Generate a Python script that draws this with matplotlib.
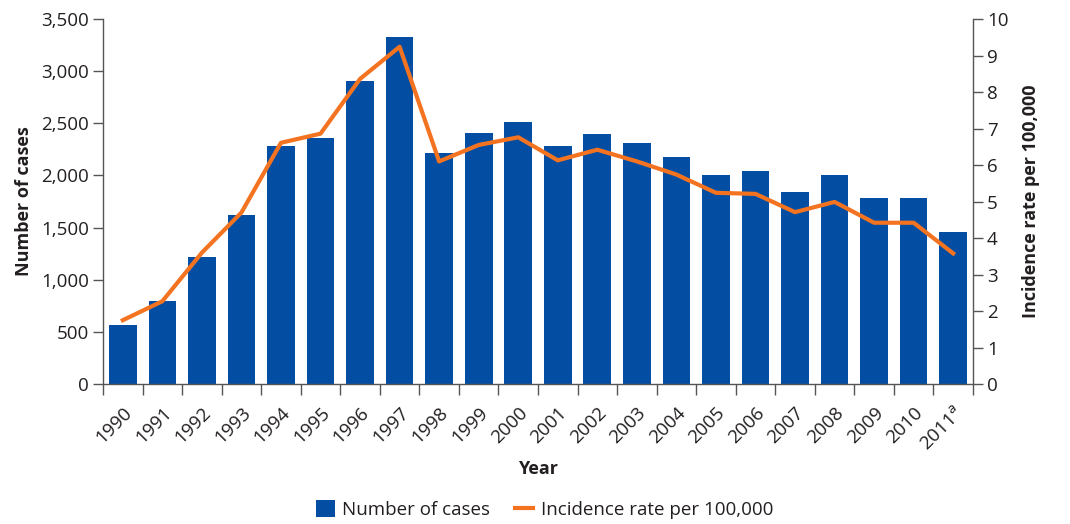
import numpy as np
import matplotlib.pyplot as plt
import matplotlib.transforms as mtransforms
from matplotlib.ticker import FuncFormatter

plt.rcParams['font.family'] = ['Open Sans', 'DejaVu Sans']

years = ['1990', '1991', '1992', '1993', '1994', '1995', '1996', '1997', '1998',
         '1999', '2000', '2001', '2002', '2003', '2004', '2005', '2006', '2007',
         '2008', '2009', '2010', '2011$^a$']
cases = [570, 800, 1220, 1620, 2280, 2360, 2910, 3330, 2220, 2410, 2510,
         2280, 2400, 2310, 2180, 2000, 2040, 1840, 2000, 1780, 1780, 1460]
rate = [1.75, 2.27, 3.6, 4.7, 6.61, 6.86, 8.36, 9.24, 6.1, 6.55, 6.76,
        6.13, 6.42, 6.1, 5.74, 5.24, 5.21, 4.71, 4.99, 4.42, 4.42, 3.58]

blue = '#034EA2'
orange = '#F47321'
dark = '#231F20'

fig = plt.figure(figsize=(10.7, 5.24), dpi=100)
ax = fig.add_axes([0.0963, 0.267, 0.8130, 0.6967])
ax2 = ax.twinx()

x = np.arange(len(years))
bars = ax.bar(x, cases, width=0.7, color=blue, zorder=2, label='Number of cases')
line, = ax2.plot(x, rate, color=orange, lw=3, solid_joinstyle='round',
                 label='Incidence rate per 100,000', zorder=3)

ax.set_xlim(-0.5, len(years) - 0.5)
ax.set_ylim(0, 3500)
ax.set_yticks(np.arange(0, 3501, 500))
ax.yaxis.set_major_formatter(FuncFormatter(lambda v, p: f'{int(v):,}'))
ax2.set_ylim(0, 10)
ax2.set_yticks(np.arange(0, 11, 1))

# x ticks at category boundaries, labels at centres
ax.set_xticks(np.arange(-0.5, len(years), 1))
ax.set_xticklabels([])
ax.set_xticks(x, minor=True)
ax.set_xticklabels(years, minor=True, rotation=45, ha='right',
                   rotation_mode='anchor', fontsize=13.5, color=dark)
shift = mtransforms.ScaledTranslation(10 / 100, 0, fig.dpi_scale_trans)
for lbl in ax.get_xticklabels(minor=True):
    lbl.set_transform(lbl.get_transform() + shift)
ax.tick_params(axis='x', which='major', length=8, width=1, color='#555555', direction='out')
ax.tick_params(axis='x', which='minor', length=0, pad=14)
ax.tick_params(axis='y', length=7, width=1, color='#555555', labelsize=13.5,
               labelcolor=dark, pad=3)
ax2.tick_params(axis='y', length=7, width=1, color='#555555', labelsize=13.5,
                labelcolor=dark, pad=3)

for a in (ax, ax2):
    a.spines['top'].set_visible(False)
    for s in ('left', 'right', 'bottom'):
        a.spines[s].set_color('#555555')
        a.spines[s].set_linewidth(1)
ax.spines['right'].set_visible(False)
ax2.spines['left'].set_visible(False)
ax2.spines['bottom'].set_visible(False)
ax.set_zorder(ax2.get_zorder() - 1)
ax2.patch.set_visible(False)

ax.set_ylabel('Number of cases', fontsize=13, fontweight='bold', color=dark, labelpad=6)
ax2.set_ylabel('Incidence rate per 100,000', fontsize=13, fontweight='bold',
               color=dark, labelpad=10)
ax.set_xlabel('Year', fontsize=13, fontweight='bold', color=dark, labelpad=4)

fig.legend([bars, line], ['Number of cases', 'Incidence rate per 100,000'],
           loc='center', bbox_to_anchor=(0.509, 0.027), ncol=2, frameon=False,
           fontsize=13.5, handlelength=1.0, handleheight=1.0, columnspacing=1.3,
           handletextpad=0.4, labelcolor=dark)

fig.savefig('out.png', dpi=100)
